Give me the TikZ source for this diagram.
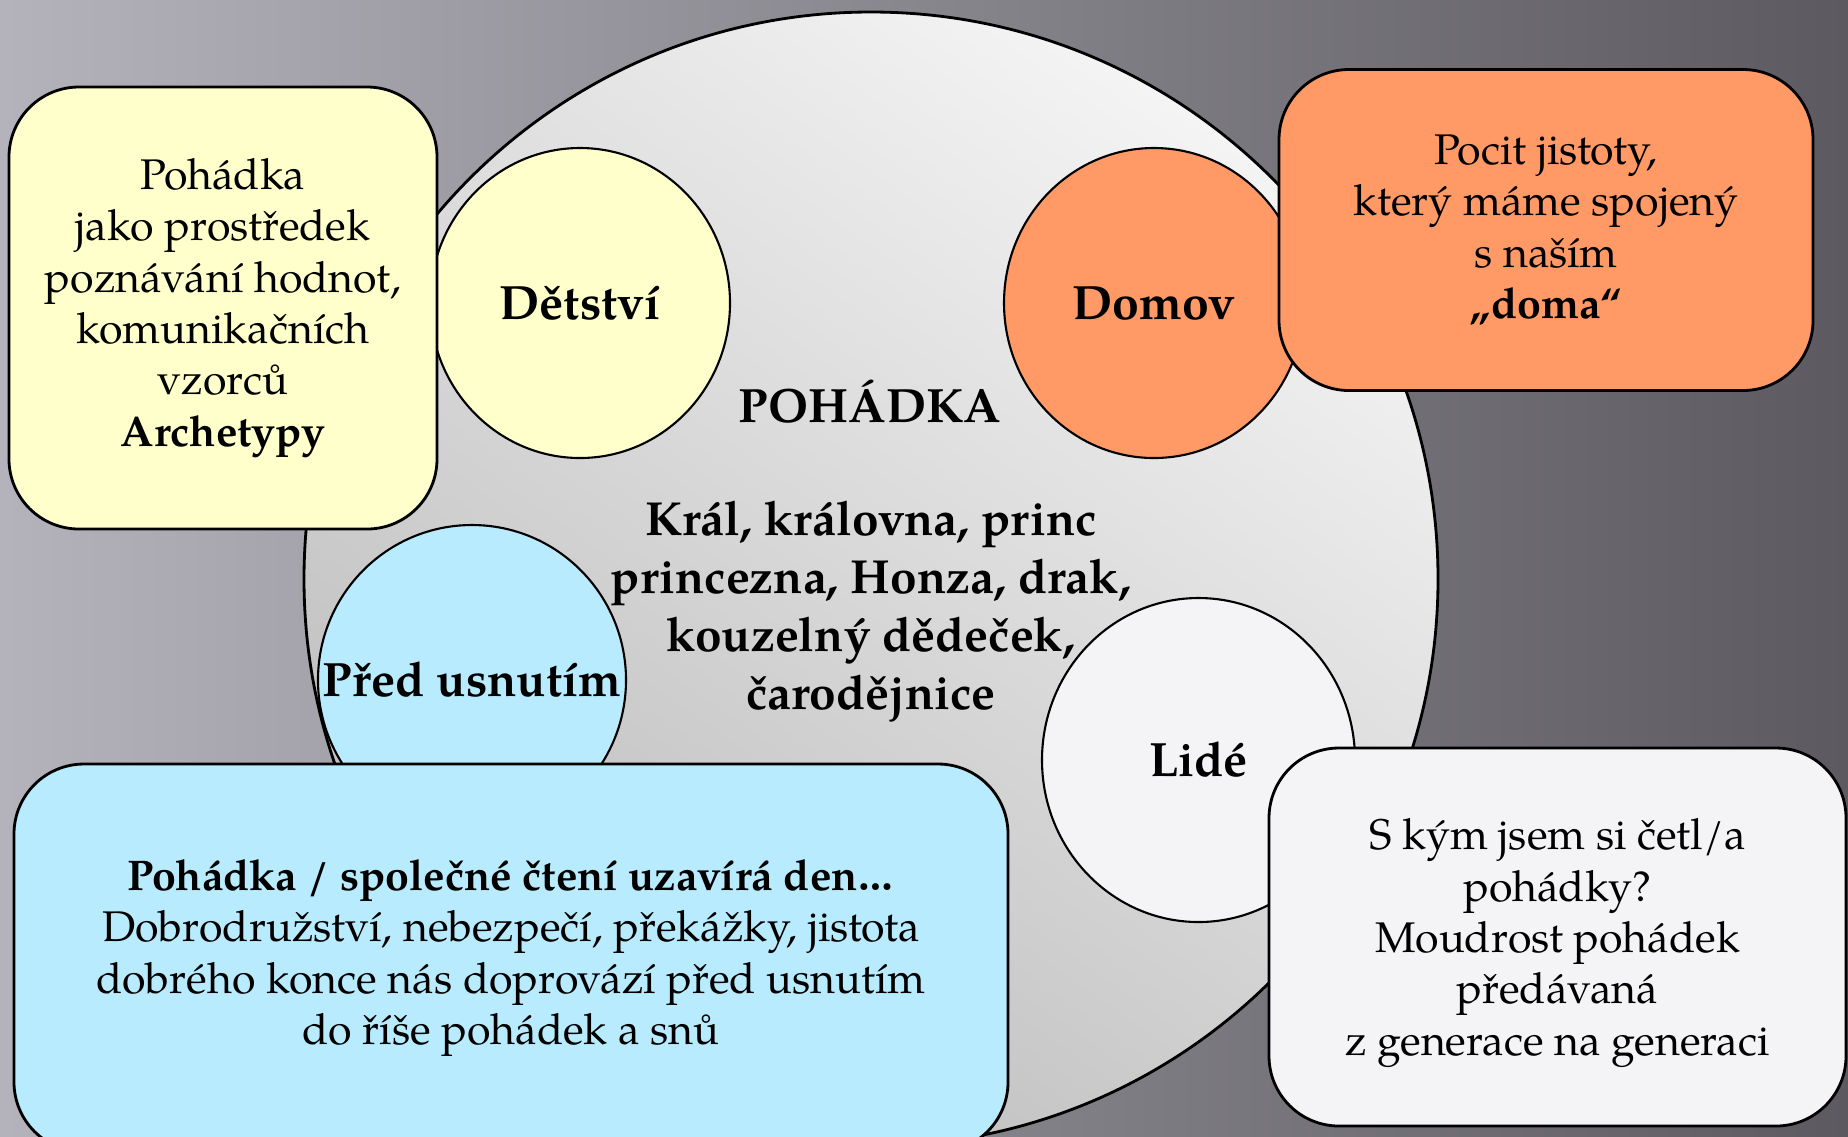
\documentclass[tikz,border=0pt]{standalone}
\usepackage{fontspec}
\setmainfont{TeX Gyre Pagella}
\usetikzlibrary{shapes.geometric}
\definecolor{bgleft}{RGB}{180,178,186}
\definecolor{bgmid}{RGB}{120,118,124}
\definecolor{bgright}{RGB}{92,90,96}
\definecolor{circtop}{RGB}{244,244,244}
\definecolor{circbot}{RGB}{188,188,188}
\definecolor{yellowfill}{RGB}{255,255,204}
\definecolor{orangefill}{RGB}{255,153,102}
\definecolor{bluefill}{RGB}{183,235,253}
\definecolor{whitefill}{RGB}{244,244,246}

\begin{document}
\begin{tikzpicture}[
  bubble/.style={draw, semithick, ellipse, minimum width=3cm, minimum height=3.1cm, font=\fontsize{13.7}{16}\selectfont\bfseries},
  card/.style={draw, thick, rounded corners=0.7cm, align=center, font=\fontsize{12.2}{14.6}\selectfont}
]
            \useasboundingbox (0,0) rectangle (18.48,-11.36);
            \fill[left color=bgleft, middle color=bgmid, right color=bgright] (0,0) rectangle (18.48,-11.36);

            \node[draw, thick, circle, minimum size=11.34cm, top color=circtop, bottom color=circbot, shading angle=-35] (Pohadka) at (8.71,-5.79) {};
            \node[font=\fontsize{13.7}{16}\selectfont\bfseries] (Nazev) at (8.70,-4.02) {POHÁDKA};
            \node[align=center, font=\fontsize{13.6}{16.5}\selectfont\bfseries] (Postavy) at (8.71,-6.12) {Král, královna, princ\\princezna, Honza, drak,\\kouzelný dědeček,\\čarodějnice};

            \node[bubble, fill=yellowfill] (Detstvi) at (5.80,-3.03) {Dětství};
            \node[bubble, fill=orangefill] (Domov) at (11.54,-3.03) {Domov};
            \node[bubble, fill=bluefill, minimum width=3.08cm] (Usnuti) at (4.72,-6.80) {\makebox[0pt]{Před usnutím}};
            \node[bubble, fill=whitefill, minimum width=3.13cm, minimum height=3.24cm] (Lide) at (11.985,-7.60) {Lidé};

            \node[card, fill=yellowfill, minimum width=4.28cm, minimum height=4.42cm] (Archetypy) at (2.23,-3.08) {Pohádka\\jako prostředek\\poznávání hodnot,\\komunikačních\\vzorců\\\textbf{Archetypy}};
            \node[card, fill=orangefill, minimum width=5.34cm, minimum height=3.21cm] (Jistota) at (15.46,-2.30) {Pocit jistoty,\\který máme spojený\\s naším\\\textbf{„doma“}};
            \node[card, fill=bluefill, minimum width=9.94cm, minimum height=3.88cm] (Den) at (5.11,-9.58) {\textbf{Pohádka / společné čtení uzavírá den…}\\Dobrodružství, nebezpečí, překážky, jistota\\dobrého konce nás doprovází před usnutím\\do říše pohádek a snů};
            \node[card, fill=whitefill, minimum width=5.77cm, minimum height=3.78cm] (Generace) at (15.575,-9.37) {\rule{0pt}{0.43cm}S kým jsem si četl/a\\pohádky?\\Moudrost pohádek\\předávaná\\z generace na generaci};
        \end{tikzpicture}
\end{document}
